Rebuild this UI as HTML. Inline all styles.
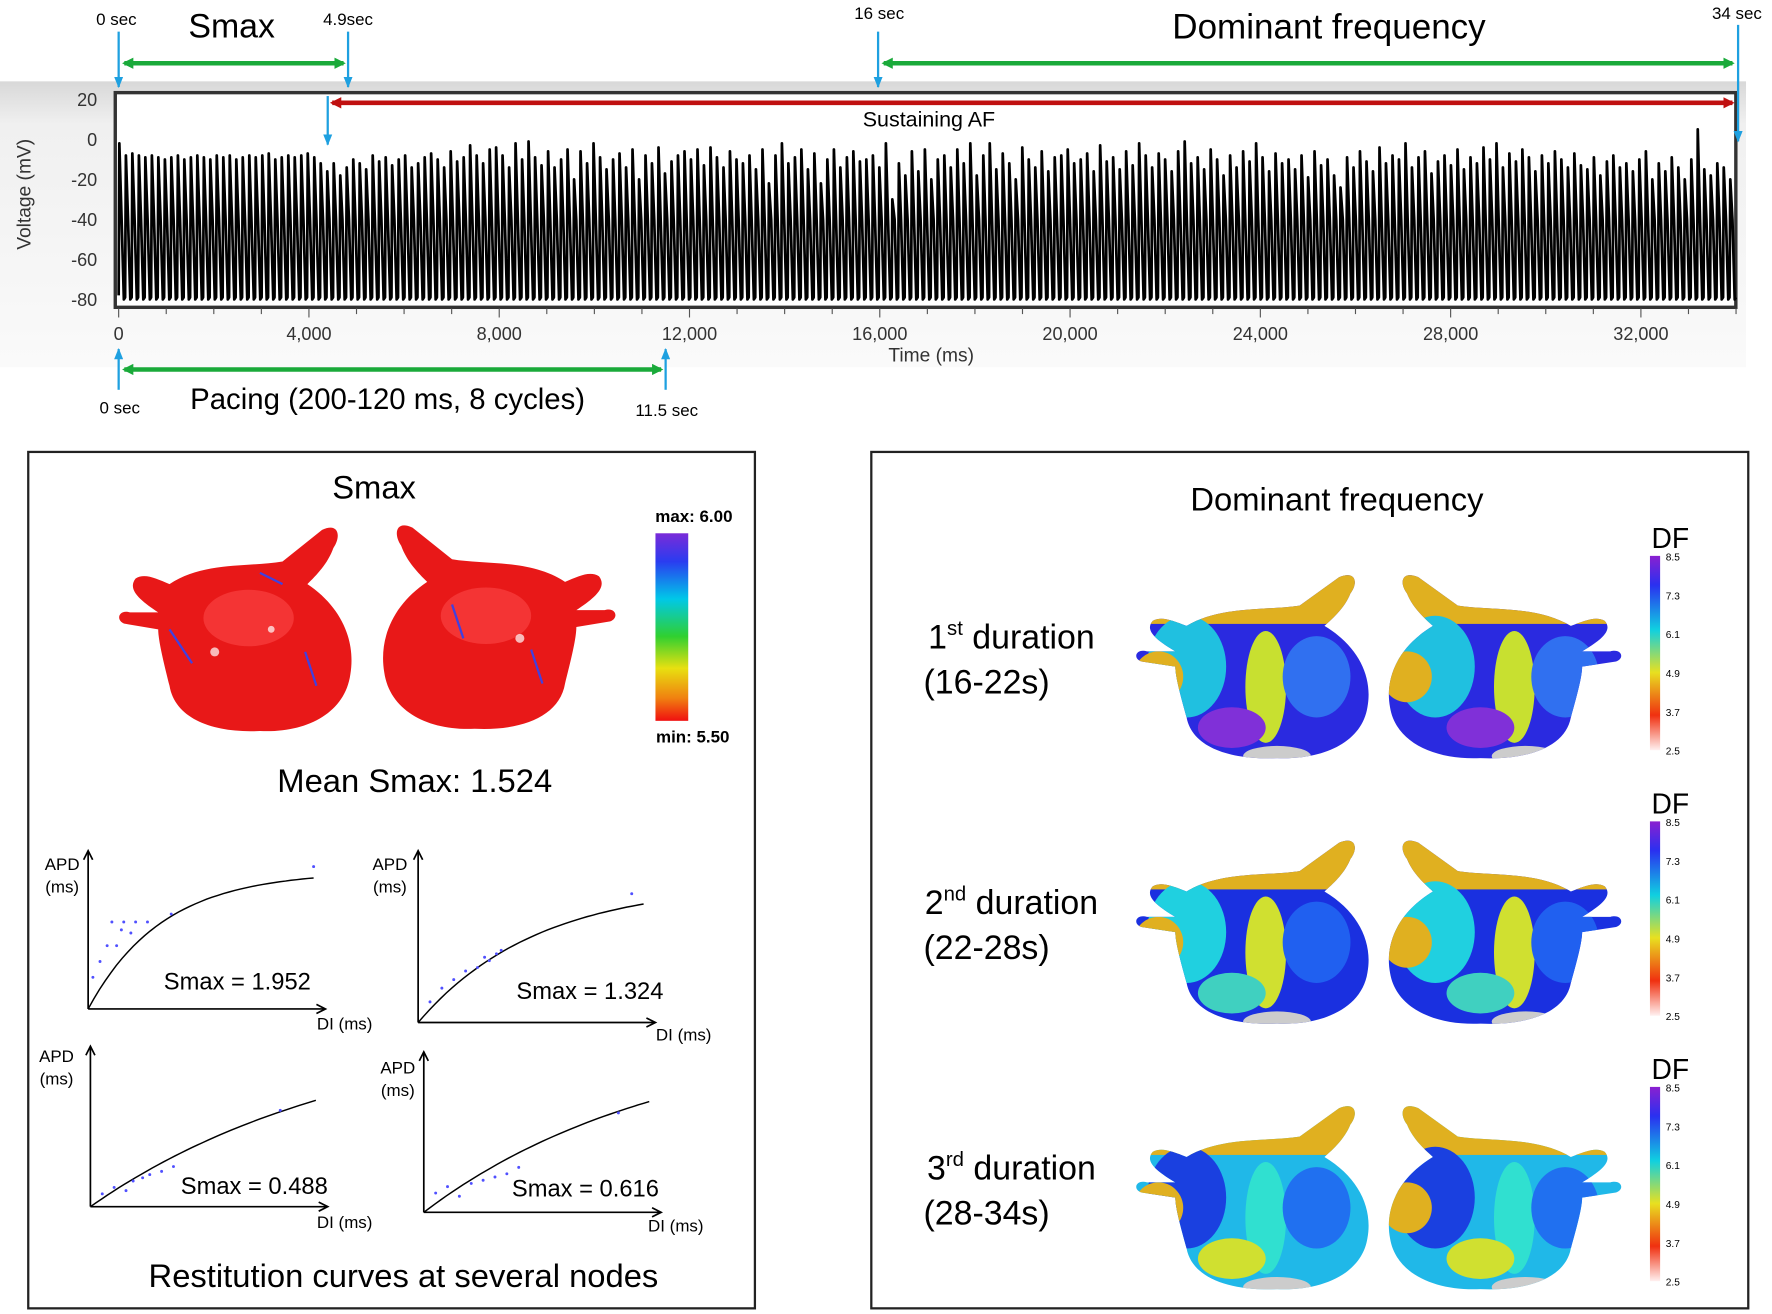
<!DOCTYPE html>
<html><head><meta charset="utf-8"><style>
html,body{margin:0;padding:0;background:#fff;}
svg{display:block;font-family:"Liberation Sans",Arial,sans-serif;}
</style></head><body>
<svg id="fig" width="1772" height="1314" viewBox="0 0 1568 1163" preserveAspectRatio="none" xmlns="http://www.w3.org/2000/svg">
<defs>
<linearGradient id="panelbg" x1="0" y1="0" x2="0" y2="1">
<stop offset="0" stop-color="#d8d8d8"/><stop offset="0.15" stop-color="#f0f0f0"/><stop offset="1" stop-color="#fafafa"/></linearGradient>
<linearGradient id="smaxbar" x1="0" y1="0" x2="0" y2="1">
<stop offset="0" stop-color="#7a2bd8"/><stop offset="0.15" stop-color="#2a3cf0"/><stop offset="0.35" stop-color="#00c8e8"/><stop offset="0.55" stop-color="#30d030"/><stop offset="0.72" stop-color="#e8e010"/><stop offset="0.88" stop-color="#f08010"/><stop offset="1" stop-color="#f01010"/></linearGradient>
<linearGradient id="dfbar" x1="0" y1="0" x2="0" y2="1">
<stop offset="0" stop-color="#8a20d0"/><stop offset="0.15" stop-color="#2a30f0"/><stop offset="0.38" stop-color="#10d0e0"/><stop offset="0.6" stop-color="#e8e020"/><stop offset="0.82" stop-color="#f03010"/><stop offset="1" stop-color="#fff0f0"/></linearGradient>
<marker id="ag" markerUnits="userSpaceOnUse" markerWidth="10" markerHeight="10" refX="8" refY="5" orient="auto-start-reverse"><path d="M0,0 L10,5 L0,10 z" fill="#1aaa3a"/></marker>
<marker id="ar" markerUnits="userSpaceOnUse" markerWidth="10" markerHeight="10" refX="8" refY="5" orient="auto-start-reverse"><path d="M0,0 L10,5 L0,10 z" fill="#c01010"/></marker>
<marker id="ab" markerUnits="userSpaceOnUse" markerWidth="10" markerHeight="8" refX="9" refY="4" orient="auto"><path d="M0,0 L10,4 L0,8 z" fill="#1ea0e0"/></marker>
<path id="heartL" d="M-60,-40 C-30,-60 10,-55 40,-60 L75,-88 C90,-95 92,-82 85,-72 C80,-58 70,-48 62,-40 C92,-20 105,10 100,40 C95,75 60,92 20,90 C-20,92 -55,80 -60,50 C-65,30 -70,10 -70,0 L-100,-5 C-108,-8 -105,-18 -95,-15 L-70,-15 C-85,-25 -98,-35 -90,-45 C-82,-50 -72,-45 -60,-40 Z"/>
<path id="heartR" d="M60,-40 C30,-60 -10,-55 -40,-60 L-75,-88 C-90,-95 -92,-82 -85,-72 C-80,-58 -70,-48 -62,-40 C-92,-20 -105,10 -100,40 C-95,75 -60,92 -20,90 C20,92 55,80 60,50 C65,30 70,10 70,0 L100,-5 C108,-8 105,-18 95,-15 L70,-15 C85,-25 98,-35 90,-45 C82,-50 72,-45 60,-40 Z"/>
<clipPath id="clipL"><use href="#heartL"/></clipPath>
<clipPath id="clipR"><use href="#heartR"/></clipPath>
</defs>

<rect x="0" y="72" width="1545" height="253" fill="url(#panelbg)"/>
<rect x="102" y="82" width="1434" height="190" fill="#fff" stroke="#333" stroke-width="3"/>
<g id="yticks"></g>
<g id="xticks"></g>
<path id="wave" fill="none" stroke="#000" stroke-width="2.4" stroke-linejoin="round"/>
<text transform="translate(27,172) rotate(-90)" text-anchor="middle" font-size="17" fill="#333">Voltage (mV)</text>
<text x="824" y="320" text-anchor="middle" font-size="17" fill="#333">Time (ms)</text>

<g>
<text x="103" y="22" text-anchor="middle" font-size="15">0 sec</text>
<text x="205" y="33" text-anchor="middle" font-size="30">Smax</text>
<text x="308" y="22" text-anchor="middle" font-size="15">4.9sec</text>
<text x="778" y="17" text-anchor="middle" font-size="15">16 sec</text>
<text x="1176" y="34" text-anchor="middle" font-size="31">Dominant frequency</text>
<text x="1537" y="17" text-anchor="middle" font-size="15">34 sec</text>
<line x1="105" y1="28" x2="105" y2="77" stroke="#1ea0e0" stroke-width="2" marker-end="url(#ab)"/>
<line x1="308" y1="28" x2="308" y2="77" stroke="#1ea0e0" stroke-width="2" marker-end="url(#ab)"/>
<line x1="777" y1="28" x2="777" y2="77" stroke="#1ea0e0" stroke-width="2" marker-end="url(#ab)"/>
<line x1="1538" y1="22" x2="1538" y2="125" stroke="#1ea0e0" stroke-width="2" marker-end="url(#ab)"/>
<line x1="290" y1="85" x2="290" y2="128" stroke="#1ea0e0" stroke-width="2" marker-end="url(#ab)"/>
<line x1="110" y1="56" x2="304" y2="56" stroke="#1aaa3a" stroke-width="4" marker-start="url(#ag)" marker-end="url(#ag)"/>
<line x1="782" y1="56" x2="1533" y2="56" stroke="#1aaa3a" stroke-width="4" marker-start="url(#ag)" marker-end="url(#ag)"/>
<line x1="294" y1="91" x2="1533" y2="91" stroke="#c01010" stroke-width="4" marker-start="url(#ar)" marker-end="url(#ar)"/>
<text x="822" y="112" text-anchor="middle" font-size="19">Sustaining AF</text>
<line x1="105" y1="345" x2="105" y2="309" stroke="#1ea0e0" stroke-width="2" marker-end="url(#ab)"/>
<line x1="589" y1="345" x2="589" y2="309" stroke="#1ea0e0" stroke-width="2" marker-end="url(#ab)"/>
<line x1="110" y1="327" x2="585" y2="327" stroke="#1aaa3a" stroke-width="4" marker-start="url(#ag)" marker-end="url(#ag)"/>
<text x="106" y="366" text-anchor="middle" font-size="15">0 sec</text>
<text x="343" y="362" text-anchor="middle" font-size="26">Pacing (200-120 ms,  8 cycles)</text>
<text x="590" y="368" text-anchor="middle" font-size="15">11.5 sec</text>
</g>

<rect x="25" y="400" width="643" height="758" fill="none" stroke="#222" stroke-width="2"/>
<text x="331" y="441" text-anchor="middle" font-size="29">Smax</text>
<g transform="translate(210,557)"><use href="#heartL" fill="#e81818"/><g clip-path="url(#clipL)"><ellipse cx="10" cy="-10" rx="40" ry="25" fill="#ff5050" opacity="0.5"/><circle cx="-20" cy="20" r="4" fill="#fff" opacity="0.7"/><circle cx="30" cy="0" r="3" fill="#fff" opacity="0.7"/><path d="M-60,0 L-40,30 M20,-50 L40,-40 M60,20 L70,50" stroke="#4040e0" stroke-width="2"/></g></g>
<g transform="translate(440,555)"><use href="#heartR" fill="#e81818"/><g clip-path="url(#clipR)"><ellipse cx="-10" cy="-10" rx="40" ry="25" fill="#ff5050" opacity="0.5"/><circle cx="20" cy="10" r="4" fill="#fff" opacity="0.7"/><path d="M-40,-20 L-30,10 M30,20 L40,50" stroke="#4040e0" stroke-width="2"/></g></g>
<rect x="580" y="472" width="29" height="166" fill="url(#smaxbar)"/>
<text x="614" y="462" text-anchor="middle" font-size="15" font-weight="bold">max: 6.00</text>
<text x="613" y="657" text-anchor="middle" font-size="15" font-weight="bold">min: 5.50</text>
<text x="367" y="701" text-anchor="middle" font-size="29">Mean Smax: 1.524</text>
<g id="rest"></g>
<text x="357" y="1139" text-anchor="middle" font-size="29">Restitution curves at several nodes</text>

<rect x="771" y="400" width="776" height="758" fill="none" stroke="#222" stroke-width="2"/>
<text x="1183" y="452" text-anchor="middle" font-size="29">Dominant frequency</text>
<g id="dfrows"></g>
</svg>
<script>
const NS="http://www.w3.org/2000/svg";
const yTicks=[20,0,-20,-40,-60,-80];
const xTicks=[0,4000,8000,12000,16000,20000,24000,28000,32000];
const xTickLabels=["0","4,000","8,000","12,000","16,000","20,000","24,000","28,000","32,000"];
const totalMs=34000;
const peaks=[-2,-8,-7,-8,-9,-8,-9,-10,-9,-8,-10,-9,-8,-9,-10,-8,-9,-8,-10,-9,-8,-9,-8,-7,-10,-9,-8,-9,-8,-7,-9,-12,-16,-12,-18,-14,-10,-12,-15,-8,-11,-9,-13,-10,-8,-14,-12,-9,-7,-10,-14,-6,-11,-9,-3,-8,-12,-5,-4,-8,-14,-2,-10,-1,-9,-13,-6,-14,-10,-5,-20,-6,-12,-2,-9,-15,-10,-7,-14,-5,-20,-8,-12,-4,-17,-11,-8,-6,-10,-5,-13,-4,-9,-14,-6,-10,-12,-8,-15,-5,-22,-8,-2,-12,-9,-5,-15,-7,-22,-10,-5,-14,-9,-6,-11,-10,-8,-14,-2,-30,-12,-18,-6,-16,-5,-20,-10,-8,-14,-5,-12,-2,-18,-8,-2,-15,-7,-12,-20,-4,-10,-14,-6,-16,-9,-8,-5,-12,-10,-7,-16,-3,-11,-9,-15,-6,-13,-2,-8,-14,-7,-10,-16,-6,-1,-12,-9,-15,-5,-10,-18,-8,-14,-6,-11,-2,-9,-16,-7,-12,-10,-15,-8,-19,-6,-13,-10,-18,-24,-9,-14,-6,-11,-16,-4,-12,-8,-10,-2,-14,-9,-6,-17,-11,-8,-13,-5,-15,-9,-12,-4,-10,-2,-14,-7,-11,-5,-9,-16,-8,-12,-6,-10,-14,-7,-13,-15,-9,-18,-11,-8,-14,-12,-16,-10,-6,-20,-12,-16,-9,-14,-20,-10,5,-15,-18,-12,-14,-20];
function sx(t){return 105+t*(1452-105)/32000;}
function sy(v){return 88+(20-v)*(265-88)/100;}
const yg=document.getElementById('yticks');
yTicks.forEach(v=>{
 const t=document.createElementNS(NS,'text');
 
 
 t.setAttribute('x',86);t.setAttribute('y',sy(v)+6);t.setAttribute('text-anchor','end');t.setAttribute('font-size','16');t.setAttribute('fill','#333');
 t.textContent=v;yg.appendChild(t);
});
const xg=document.getElementById('xticks');
xTicks.forEach((v,i)=>{
 const t=document.createElementNS(NS,'text');
 
 
 t.setAttribute('x',sx(v));t.setAttribute('y',301);t.setAttribute('text-anchor','middle');t.setAttribute('font-size','16');t.setAttribute('fill','#333');
 t.textContent=xTickLabels[i];xg.appendChild(t);
});
for(let v=0;v<=34000;v+=1000){
 const l=document.createElementNS(NS,'line');
 
 
 l.setAttribute('x1',sx(v));l.setAttribute('x2',sx(v));l.setAttribute('y1',273);l.setAttribute('y2',v%4000?278:281);l.setAttribute('stroke','#555');
 xg.appendChild(l);
}
(function(){
 const cl=totalMs/peaks.length;let d="M"+sx(0)+","+sy(-78);
 peaks.forEach((p,i)=>{
  const t=i*cl;
  d+=" L"+sx(t+15).toFixed(1)+","+sy(p).toFixed(1)+" L"+sx(t+cl*0.45).toFixed(1)+","+sy(-40).toFixed(1)+" L"+sx(t+cl*0.8).toFixed(1)+","+sy(-80).toFixed(1)+" L"+sx(t+cl).toFixed(1)+","+sy(-79).toFixed(1);
 });
 document.getElementById('wave').setAttribute('d',d);
})();

const restSmax=["Smax = 1.952","Smax = 1.324","Smax = 0.488","Smax = 0.616"];
const restAmp=[0.9,0.75,0.72,0.75];
const restRate=[3.2,2.0,0.9,1.0];
const restPtsX=[[0.02,0.05,0.08,0.1,0.12,0.14,0.15,0.18,0.2,0.25,0.35,0.95],[0.05,0.1,0.15,0.2,0.25,0.28,0.3,0.33,0.35,0.9],[0.05,0.1,0.15,0.18,0.22,0.25,0.3,0.35,0.8],[0.05,0.1,0.15,0.2,0.25,0.3,0.35,0.4,0.82]];
const restPtsY=[[0.2,0.3,0.4,0.55,0.4,0.5,0.55,0.48,0.55,0.55,0.6,0.9],[0.12,0.2,0.25,0.3,0.32,0.38,0.36,0.4,0.42,0.75],[0.08,0.12,0.1,0.16,0.18,0.2,0.22,0.25,0.6],[0.12,0.16,0.1,0.18,0.2,0.22,0.24,0.28,0.62]];
const restBox=[[78,893,210,140],[370,905,210,152],[80,1068,210,142],[375,1073,210,142]];
const restLbl=[[55,770,"APD","(ms)",305,911,210,876],[345,770,"APD","(ms)",605,921,522,884],[50,940,"APD","(ms)",305,1087,225,1057],[352,950,"APD","(ms)",598,1090,518,1059]];
const rg=document.getElementById('rest');
restBox.forEach((b,k)=>{
 const [ox,oy,w,h]=b;const g=document.createElementNS(NS,'g');
 
 
 let s=`<path d="M${ox},${oy} L${ox},${oy-h}" stroke="#000" stroke-width="1.5"/><path d="M${ox-4},${oy-h+8} L${ox},${oy-h} L${ox+4},${oy-h+8}" fill="none" stroke="#000" stroke-width="1.5"/><path d="M${ox},${oy} L${ox+w},${oy}" stroke="#000" stroke-width="1.5"/><path d="M${ox+w-8},${oy-4} L${ox+w},${oy} L${ox+w-8},${oy+4}" fill="none" stroke="#000" stroke-width="1.5"/>`;
 let d="";for(let i=0;i<=40;i++){const x=i/40*0.95;const y=restAmp[k]*(1-Math.exp(-restRate[k]*x))/(1-Math.exp(-restRate[k]*0.95))*0.92;d+=(i?"L":"M")+(ox+x*w).toFixed(1)+","+(oy-y*h).toFixed(1);}
 s+=`<path d="${d}" fill="none" stroke="#000" stroke-width="1.3"/>`;
 restPtsX[k].forEach((x,i)=>{s+=`<circle cx="${ox+x*w}" cy="${oy-restPtsY[k][i]*h}" r="1.3" fill="#5050ff"/>`;});
 const L=restLbl[k];
 s+=`<text x="${L[0]}" y="${L[1]}" text-anchor="middle" font-size="15">${L[2]}</text><text x="${L[0]}" y="${L[1]+20}" text-anchor="middle" font-size="15">${L[3]}</text><text x="${L[4]}" y="${L[5]}" text-anchor="middle" font-size="15">DI (ms)</text><text x="${L[6]}" y="${L[7]}" text-anchor="middle" font-size="21">${restSmax[k]}</text>`;
 g.innerHTML=s;rg.appendChild(g);
});

const dfRows=["1","2","3"];
const dfSup=["st","nd","rd"];
const dfRange=["(16-22s)","(22-28s)","(28-34s)"];
const dfTicks=["8.5","7.3","6.1","4.9","3.7","2.5"];
const dfPalette=[["#2a2ae0","#20c0e0","#c8e030","#3070f0","#8030d8","#e0b020"],["#1a30e0","#20d0e0","#d0e030","#2060f0","#40d0c0","#e0b020"],["#20b8e8","#1a40e0","#30e0d0","#2070f0","#d0e030","#e0b020"]];
const dfg=document.getElementById('dfrows');
dfRows.forEach((r,k)=>{
 const cy=590+k*235;const g=document.createElementNS(NS,'g');
 
 
 const p=dfPalette[k];
 let s=`<text x="895" y="${cy-16}" text-anchor="middle" font-size="30">${r}<tspan dy="-12" font-size="18">${dfSup[k]}</tspan><tspan dy="12"> duration</tspan></text><text x="873" y="${cy+24}" text-anchor="middle" font-size="30">${dfRange[k]}</text>`;
 [[1110,'heartL','clipL'],[1330,'heartR','clipR']].forEach(([hx,hid,cid])=>{
  s+=`<g transform="translate(${hx},${cy}) scale(1.0,0.9)"><use href="#${hid}" fill="${p[0]}"/><g clip-path="url(#${cid})">
  <rect x="-110" y="-100" width="220" height="58" fill="${p[5]}"/>
  <ellipse cx="-60" cy="0" rx="35" ry="50" fill="${p[1]}"/>
  <ellipse cx="10" cy="20" rx="18" ry="55" fill="${p[2]}"/>
  <ellipse cx="55" cy="10" rx="30" ry="40" fill="${p[3]}"/>
  <ellipse cx="-20" cy="60" rx="30" ry="20" fill="${p[4]}"/>
  <ellipse cx="-85" cy="10" rx="22" ry="25" fill="${p[5]}"/>
  <ellipse cx="20" cy="88" rx="30" ry="10" fill="#ccc"/></g></g>`;
 });
 const by=cy-98;
 s+=`<text x="1478" y="${by-7}" text-anchor="middle" font-size="25">DF</text><rect x="1460" y="${by}" width="9" height="172" fill="url(#dfbar)"/>`;
 dfTicks.forEach((t,i)=>{s+=`<text x="1474" y="${by+4+i*34.4}" font-size="9">${t}</text>`;});
 g.innerHTML=s;dfg.appendChild(g);
});
</script>
</body></html>
